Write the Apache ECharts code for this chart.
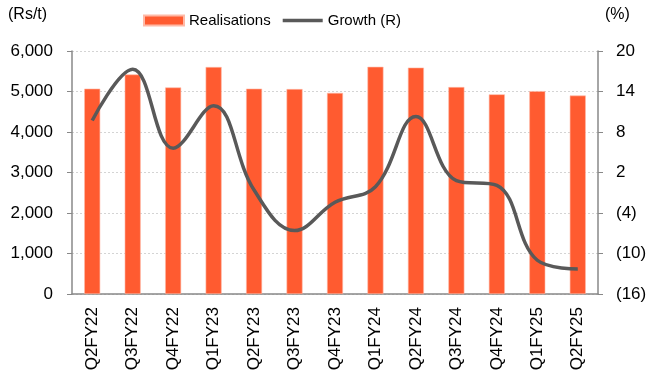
<!DOCTYPE html>
<html>
<head>
<meta charset="utf-8">
<script src="https://cdn.jsdelivr.net/npm/echarts@6/dist/echarts.min.js"></script>
<style>
  html, body { margin: 0; padding: 0; background: #fff; }
  #chart { width: 663px; height: 373px; }
</style>
</head>
<body>
<div id="chart"></div>
<script>
  // quarters
  const categories = ["Q2FY22", "Q3FY22", "Q4FY22", "Q1FY23", "Q2FY23", "Q3FY23", "Q4FY23",
    "Q1FY24", "Q2FY24", "Q3FY24", "Q4FY24", "Q1FY25", "Q2FY25"];
  // Rs/t
  const realisations = [5070, 5420, 5100, 5605, 5070, 5060, 4965, 5610, 5590, 5110, 4930, 5010, 4900];
  // % yoy
  const growth = [9.7, 17.3, 5.6, 11.9, -0.6, -6.6, -2.4, -0.1, 10.3, 0.8, 0.1, -11.0, -12.3];

  // right axis runs (16) .. 20, shifted so ticks land on multiples of 6
  const rightMin = -16;

  const font = "'Liberation Sans', Arial, sans-serif";
  const chart = echarts.init(document.getElementById("chart"));

  const fmtPct = v => {
    let x = Math.round(v + rightMin);
    return x < 0 ? "(" + (-x) + ")" : String(x);
  };

  const option = {
    animation: false,
    textStyle: { fontFamily: font, color: "#000" },
    legend: {
      top: 8,
      left: 138,
      itemGap: 12,
      itemWidth: 40,
      itemHeight: 10,
      symbolKeepAspect: false,
      textStyle: { fontFamily: font, fontSize: 15, color: "#000" },
      data: [
        { name: "Realisations", icon: "rect" },
        { name: "Growth (R)", icon: "path://M0,0L0.01,0M0,3.3h40v3.4h-40zM39.99,10L40,10" }
      ]
    },
    graphic: [
      { type: "text", left: 8, top: 7, style: { text: "(Rs/t)", fontSize: 16, fontFamily: font, fill: "#000" } },
      { type: "text", left: 605, top: 7, style: { text: "(%)", fontSize: 16, fontFamily: font, fill: "#000" } }
    ],
    grid: { left: 72, right: 65, top: 51, bottom: 79, outerBoundsMode: "none" },
    xAxis: {
      type: "category",
      data: categories,
      axisLine: { lineStyle: { color: "#888", width: 1.5 } },
      axisTick: { length: 5, lineStyle: { color: "#888" } },
      axisLabel: { rotate: 90, fontSize: 17, color: "#000", margin: 13, fontFamily: font }
    },
    yAxis: [
      {
        type: "value",
        min: 0,
        max: 6000,
        interval: 1000,
        axisLine: { show: true, lineStyle: { color: "#888", width: 1.5 } },
        axisTick: { show: true, length: 5, lineStyle: { color: "#888" } },
        axisLabel: {
          fontSize: 17, color: "#000", margin: 19, fontFamily: font,
          formatter: v => v.toLocaleString("en-US")
        },
        splitLine: { lineStyle: { color: "#d4d4d4", type: [2, 2] } }
      },
      {
        type: "value",
        min: 0,
        max: 36,
        interval: 6,
        position: "right",
        axisLine: { show: true, lineStyle: { color: "#888", width: 1.5 } },
        axisTick: { show: true, length: 5, lineStyle: { color: "#888" } },
        axisLabel: { fontSize: 17, color: "#000", margin: 18, fontFamily: font, formatter: fmtPct },
        splitLine: { show: false }
      }
    ],
    series: [
      {
        name: "Realisations",
        type: "bar",
        data: realisations,
        barWidth: 16,
        itemStyle: { color: "#FF5B30", borderColor: "#FFB9A6", borderWidth: 0.6 }
      },
      {
        name: "Growth (R)",
        type: "line",
        yAxisIndex: 1,
        data: growth.map(v => v - rightMin),
        smooth: 0.4,
        showSymbol: false,
        symbol: "none",
        lineStyle: { color: "#595959", width: 3.5 },
        itemStyle: { color: "#595959" }
      }
    ]
  };

  chart.setOption(option);
</script>
</body>
</html>
